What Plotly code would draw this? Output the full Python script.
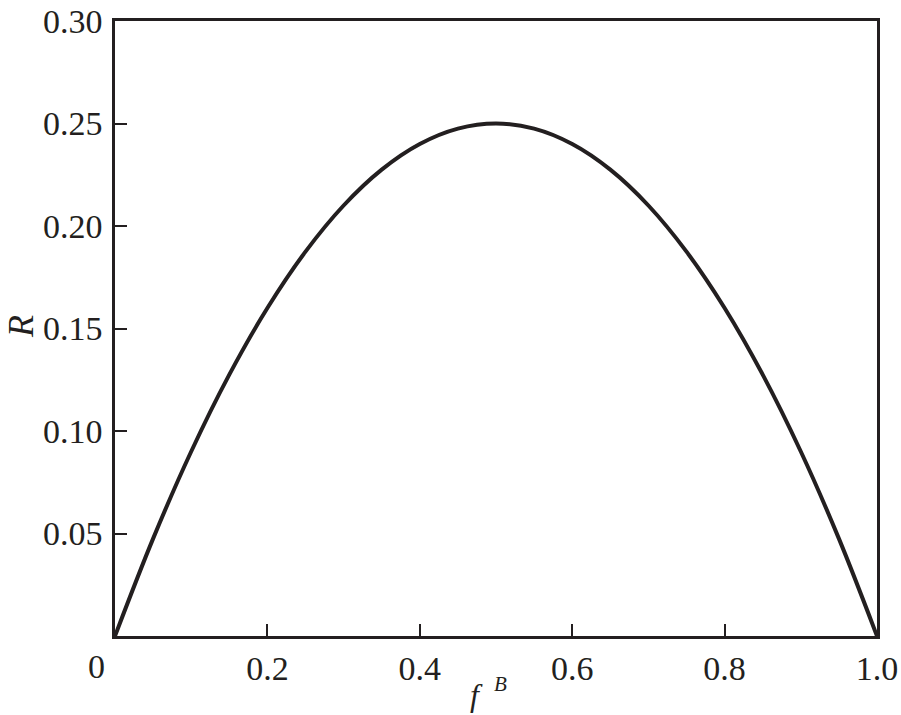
import plotly.graph_objects as go

# values
f_B = [0.00, 0.05, 0.10, 0.15, 0.20, 0.25, 0.30, 0.35, 0.40, 0.45, 0.50,
       0.55, 0.60, 0.65, 0.70, 0.75, 0.80, 0.85, 0.90, 0.95, 1.00]
R = [0.000, 0.0475, 0.090, 0.1275, 0.160, 0.1875, 0.210, 0.2275, 0.240, 0.2475, 0.250,
     0.2475, 0.240, 0.2275, 0.210, 0.1875, 0.160, 0.1275, 0.090, 0.0475, 0.000]

x_tickvals = [0.2, 0.4, 0.6, 0.8, 1.0]
x_ticktext = ["0.2", "0.4", "0.6", "0.8", "1.0"]
y_tickvals = [0.05, 0.10, 0.15, 0.20, 0.25, 0.30]
y_ticktext = ["0.05", "0.10", "0.15", "0.20", "0.25", "0.30"]

FONT = "Liberation Serif"
INK = "#231f20"

fig = go.Figure()
fig.add_trace(go.Scatter(x=f_B, y=R, mode="lines",
                         line=dict(color=INK, width=4, shape="spline", smoothing=1.0),
                         showlegend=False, hoverinfo="skip"))

fig.update_layout(
    width=901, height=715,
    margin=dict(l=115, r=24, t=21, b=79, autoexpand=False),
    paper_bgcolor="white", plot_bgcolor="white",
    font=dict(family=FONT, size=34, color=INK),
    xaxis=dict(range=[0, 1.0], tickvals=x_tickvals, ticktext=x_ticktext,
               ticks="inside", ticklen=12, tickwidth=2, tickcolor=INK,
               showline=True, linewidth=2.5, linecolor=INK, mirror=True,
               showgrid=False, zeroline=False, automargin=False,
               tickfont=dict(family=FONT, size=34, color=INK)),
    yaxis=dict(range=[0, 0.30], tickvals=y_tickvals, ticktext=y_ticktext,
               ticks="inside", ticklen=12, tickwidth=2, tickcolor=INK,
               showline=True, linewidth=2.5, linecolor=INK, mirror=True,
               showgrid=False, zeroline=False, automargin=False,
               ticklabelstandoff=3,
               tickfont=dict(family=FONT, size=34, color=INK)),
)

# "0" label at the origin, set a little left of the axis as in the reference
fig.add_annotation(x=0, y=0, xref="x", yref="y", text="0", showarrow=False,
                   xanchor="center", yanchor="top", xshift=-19, yshift=-10,
                   font=dict(family=FONT, size=34, color=INK))
# x title  f^B
fig.add_annotation(x=0, y=0, xref="paper", yref="paper", text="<i>f</i>",
                   showarrow=False, xanchor="center", yanchor="middle",
                   xshift=361, yshift=-59,
                   font=dict(family=FONT, size=32, color=INK))
fig.add_annotation(x=0, y=0, xref="paper", yref="paper", text="<i>B</i>",
                   showarrow=False, xanchor="center", yanchor="middle",
                   xshift=385, yshift=-48,
                   font=dict(family=FONT, size=21, color=INK))
# y title  R
fig.add_annotation(x=0, y=0, xref="paper", yref="paper", text="<i>R</i>",
                   showarrow=False, xanchor="center", yanchor="middle", textangle=-90,
                   xshift=-94, yshift=309, borderpad=0,
                   font=dict(family=FONT, size=36, color=INK))

fig.write_html("out.html", config={"displayModeBar": False},
               post_script="document.body.style.margin='0';document.body.style.padding='0';")
